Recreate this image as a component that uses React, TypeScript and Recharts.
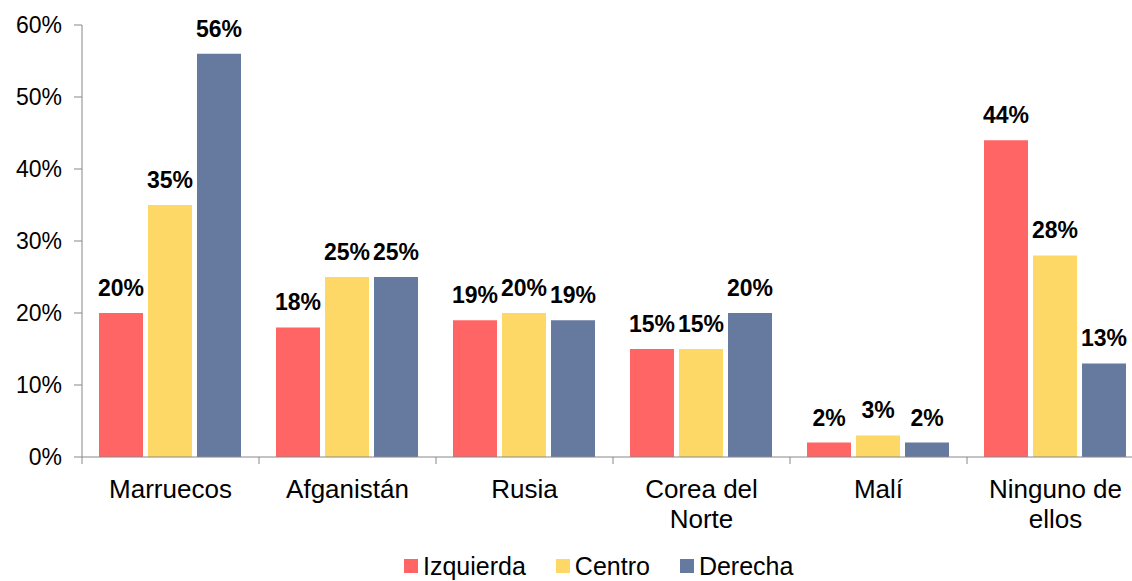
import { BarChart, Bar, XAxis, YAxis, LabelList } from 'recharts'

const categories = ['Marruecos', 'Afganistán', 'Rusia', 'Corea del Norte', 'Malí', 'Ninguno de ellos']
const categoryLines = [['Marruecos'], ['Afganistán'], ['Rusia'], ['Corea del', 'Norte'], ['Malí'], ['Ninguno de', 'ellos']]
const izquierda = [20, 18, 19, 15, 2, 44]
const centro = [35, 25, 20, 15, 3, 28]
const derecha = [56, 25, 19, 20, 2, 13]
const yTicks = [0, 10, 20, 30, 40, 50, 60]

const series = [
  { key: 'izquierda', name: 'Izquierda', color: '#FF6565' },
  { key: 'centro', name: 'Centro', color: '#FDD866' },
  { key: 'derecha', name: 'Derecha', color: '#66799F' },
]

const data = categories.map((name, i) => ({
  name,
  izquierda: izquierda[i],
  centro: centro[i],
  derecha: derecha[i],
}))

const FONT = '"Liberation Sans", Arial, sans-serif'
const AXIS = '#888888'
const CHART_W = 1150
const LEFT = 82
const RIGHT_MARGIN = 6
const BAND = (CHART_W - LEFT - RIGHT_MARGIN) / categories.length

// category labels are centred, but the small ticks sit on the category borders
function CategoryTick(props: any) {
  const { x, y, payload, index } = props
  const lines = categoryLines[index] ?? [payload.value]
  const left = x - BAND / 2
  return (
    <g>
      <line x1={left} y1={y - 8} x2={left} y2={y - 1} stroke={AXIS} strokeWidth={1} />
      {index === categories.length - 1 && (
        <line x1={left + BAND} y1={y - 8} x2={left + BAND} y2={y - 1} stroke={AXIS} strokeWidth={1} />
      )}
      <text x={x} y={y} textAnchor="middle" fill="#000" fontSize={26} fontFamily={FONT}>
        {lines.map((l: string, i: number) => (
          <tspan key={i} x={x} y={y + 33 + i * 30}>
            {l}
          </tspan>
        ))}
      </text>
    </g>
  )
}

export default function App() {
  return (
    <div
      style={{
        position: 'absolute',
        left: 0,
        top: 0,
        width: 1132,
        height: 581,
        overflow: 'hidden',
        background: '#fff',
        fontFamily: FONT,
      }}
    >
      <BarChart
        width={CHART_W}
        height={581}
        data={data}
        margin={{ top: 25, right: RIGHT_MARGIN, left: 0, bottom: 0 }}
        barCategoryGap={17}
        barGap={5}
      >
        <XAxis
          dataKey="name"
          height={124}
          axisLine={{ stroke: AXIS }}
          tickLine={false}
          interval={0}
          tick={<CategoryTick />}
        />
        <YAxis
          width={LEFT}
          domain={[0, 60]}
          ticks={yTicks}
          tickFormatter={(v: number) => `${v}%`}
          axisLine={{ stroke: AXIS }}
          tickLine={{ stroke: AXIS }}
          tickSize={8}
          tickMargin={12}
          tick={{ fill: '#000', fontSize: 23, fontFamily: FONT }}
        />
        {series.map((s) => (
          <Bar key={s.key} dataKey={s.key} name={s.name} fill={s.color} isAnimationActive={false}>
            <LabelList
              dataKey={s.key}
              position="top"
              offset={17}
              formatter={(v: any) => `${v}%`}
              fill="#000"
              fontSize={23}
              fontWeight="bold"
              fontFamily={FONT}
            />
          </Bar>
        ))}
      </BarChart>
      <div
        style={{
          position: 'absolute',
          top: 553,
          left: 404,
          display: 'flex',
          alignItems: 'center',
          fontSize: 25,
          lineHeight: '26px',
          color: '#000',
        }}
      >
        {series.map((s, i) => (
          <div key={s.key} style={{ display: 'flex', alignItems: 'center', marginLeft: i === 0 ? 0 : 30 }}>
            <span style={{ width: 14, height: 14, background: s.color, display: 'inline-block', marginRight: 5 }} />
            <span>{s.name}</span>
          </div>
        ))}
      </div>
    </div>
  )
}
